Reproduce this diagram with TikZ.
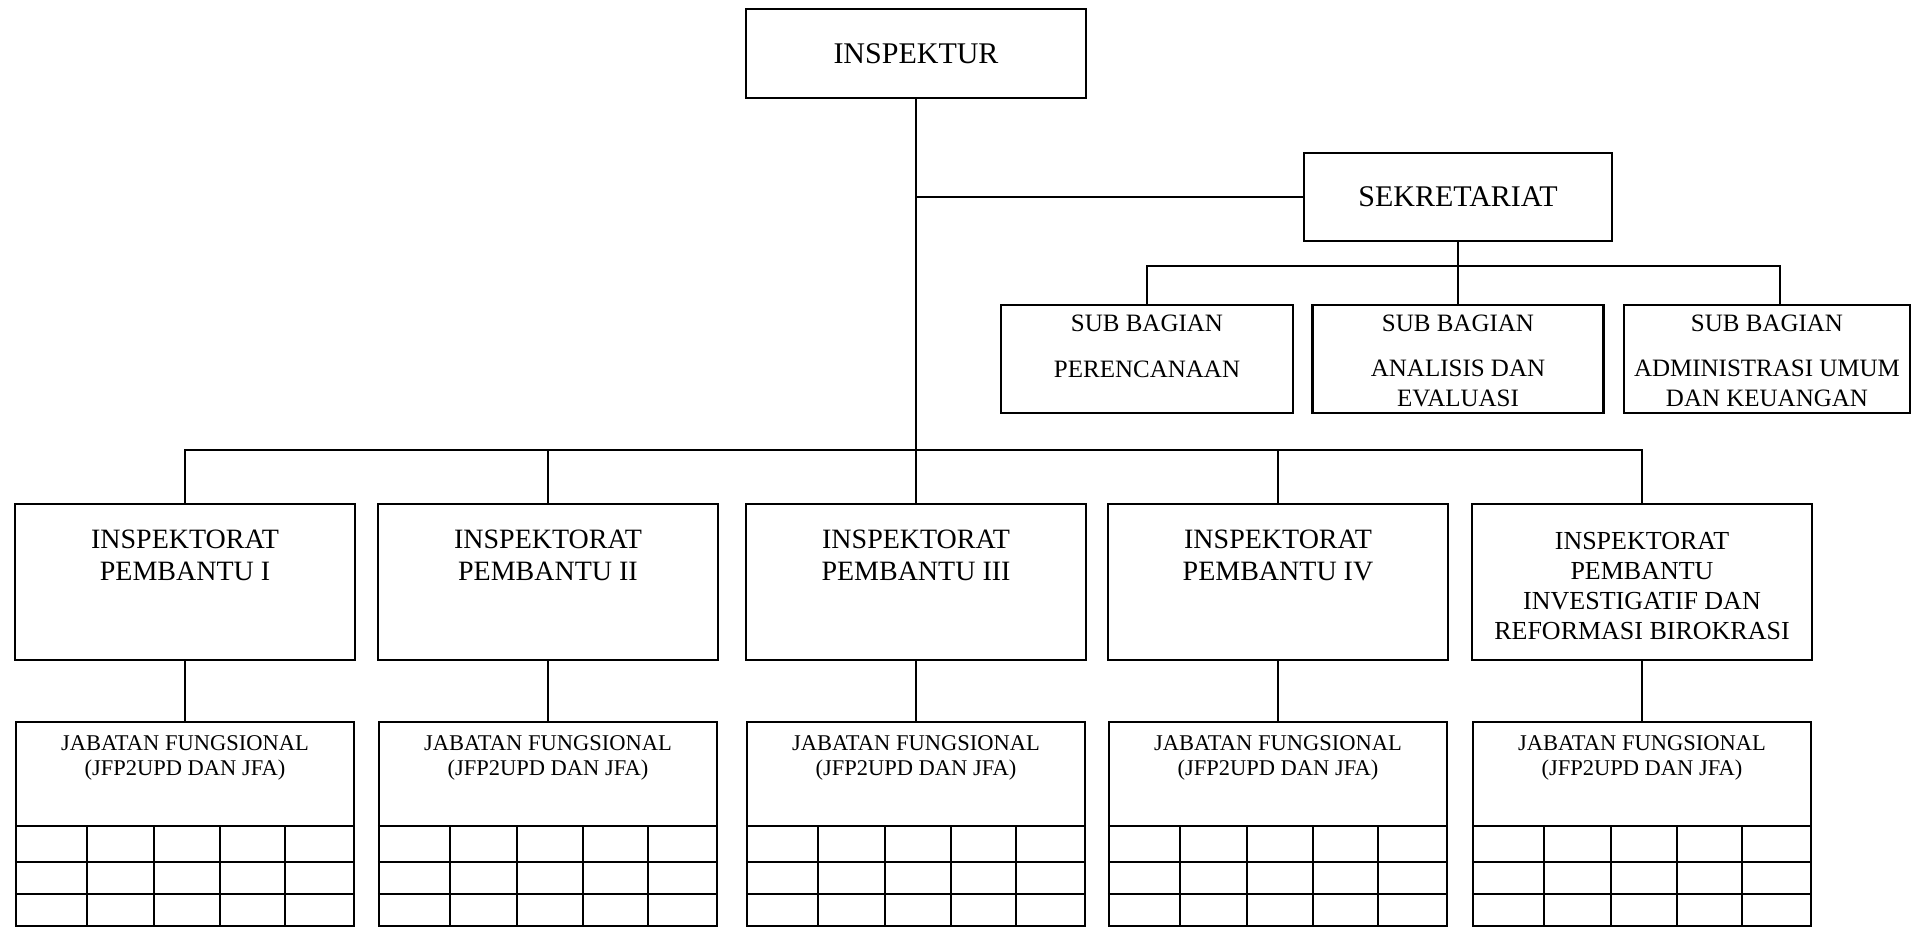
\documentclass[tikz,border=0pt]{standalone}
\usepackage{fontspec}
\setmainfont{Liberation Serif}
\usetikzlibrary{positioning}

\begin{document}
\begin{tikzpicture}[
	  x=1pt, y=-1pt,
	  bx/.style={draw, line width=2.4pt, inner sep=0pt},
	  topbx/.style={bx, minimum height=89pt, font=\fontsize{30}{34}\selectfont},
	  subbx/.style={bx, minimum height=108pt},
	  irbx/.style={bx, minimum width=340pt, minimum height=156pt},
	  jfbx/.style={bx, minimum width=338pt, minimum height=204pt},
	  subtxt/.style={align=center, inner sep=0pt, font=\fontsize{25}{30}\selectfont},
	  irtxt/.style={align=center, inner sep=0pt, font=\fontsize{28}{32}\selectfont},
	  jftxt/.style={align=center, inner sep=0pt, font=\fontsize{22.5}{25}\selectfont},
	  ln/.style={line width=2pt},
	]
	\useasboundingbox (0,0) rectangle (1912,931);

	\node [topbx, minimum width=340pt] (insp) at (916,53.5) {INSPEKTUR};
	\node [topbx, minimum width=308pt, minimum height=88pt] (sek) at (1458,197) {SEKRETARIAT};

	\node [subbx, minimum width=292pt] (sb1) at (1147,359) {};
	\node [subbx, minimum width=291pt] (sb2) at (1458,359) {};
	\node [subbx, minimum width=286pt] (sb3) at (1767,359) {};
	\node [subtxt, below=10.5pt of sb1.north] {SUB BAGIAN\\[16pt]PERENCANAAN};
	\node [subtxt, below=10.5pt of sb2.north] {SUB BAGIAN\\[15pt]ANALISIS DAN\\EVALUASI};
	\node [subtxt, below=10.5pt of sb3.north] {SUB BAGIAN\\[15pt]ADMINISTRASI UMUM\\DAN KEUANGAN};

	\node [irbx] (ip1) at (185,582) {};
	\node [irbx] (ip2) at (548,582) {};
	\node [irbx] (ip3) at (916,582) {};
	\node [irbx] (ip4) at (1278,582) {};
	\node [irbx] (ip5) at (1642,582) {};
	\node [irtxt, below=26.5pt of ip1.north] {INSPEKTORAT\\PEMBANTU I};
	\node [irtxt, below=26.5pt of ip2.north] {INSPEKTORAT\\PEMBANTU II};
	\node [irtxt, below=26.5pt of ip3.north] {INSPEKTORAT\\PEMBANTU III};
	\node [irtxt, below=26.5pt of ip4.north] {INSPEKTORAT\\PEMBANTU IV};
	\node [irtxt, font=\fontsize{26}{30}\selectfont, below=29pt of ip5.north]
	  {INSPEKTORAT\\PEMBANTU\\INVESTIGATIF DAN\\REFORMASI BIROKRASI};

	\coordinate (sbus) at (1458,266);
	\coordinate (bus) at (916,450);
	\draw [ln] (insp) -- (ip3);
	\draw [ln] (sek) -- (sek.west -| insp);
	\draw [ln] (sek) -- (sb2);
	\draw [ln] (sb1.north) |- (sbus) -| ([xshift=13pt]sb3.north);
	\draw [ln] (ip1.north) |- (bus) -| (ip5.north);
	\draw [ln] (ip2.north) -- (ip2.north |- bus);
	\draw [ln] (ip4.north) -- (ip4.north |- bus);

	\foreach \i/\x in {1/185,2/548,3/916,4/1278,5/1642} {
	  \node [jfbx] (jf\i) at (\x,824) {};
	  \node [jftxt, below=15pt of jf\i.north] {JABATAN FUNGSIONAL\\(JFP2UPD DAN JFA)};
	  \draw [ln] (ip\i) -- (jf\i);
	  \foreach \r in {105,141,173}
	    \draw [ln] ([yshift=-\r pt]jf\i.north west) -- ([yshift=-\r pt]jf\i.north east);
	  \foreach \c in {72,139,205,270}
	    \draw [ln] ([xshift=\c pt,yshift=-105pt]jf\i.north west) -- ([xshift=\c pt]jf\i.south west);
	}
\end{tikzpicture}
\end{document}
